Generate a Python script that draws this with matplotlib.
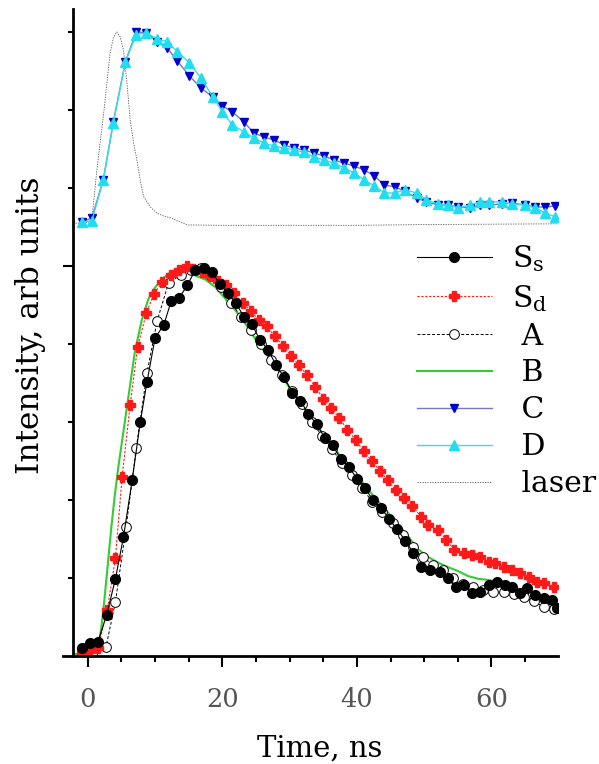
import matplotlib
matplotlib.use("Agg")
import matplotlib.pyplot as plt

plt.rcParams['font.family'] = 'DejaVu Serif'
plt.rcParams['mathtext.fontset'] = 'dejavuserif'

# normalised intensities (lower group: Ss, Sd, A, B)
ss_t = [-0.9, 0.3, 1.5, 2.8, 4.1, 5.3, 6.6, 7.8, 8.8, 10.0, 11.3, 12.4, 13.6, 14.8, 16.0, 17.2, 18.4, 19.6,
        20.8, 22.0, 23.2, 24.4, 25.6, 26.8, 28.0, 29.2, 30.4, 31.6, 32.8, 34.0, 35.2, 36.4, 37.6, 38.8,
        40.0, 41.2, 42.4, 43.6, 44.8, 46.0, 47.2, 48.4, 49.6, 50.8, 52.3, 53.6, 54.8, 55.9, 57.1, 58.3,
        59.6, 60.8, 62.0, 63.0, 64.2, 65.3, 66.5, 67.8, 69.0, 69.8]
ss_i = [0.02, 0.033, 0.036, 0.105, 0.197, 0.305, 0.451, 0.600, 0.703, 0.815, 0.849, 0.910, 0.918, 0.951,
        0.990, 0.995, 0.985, 0.955, 0.93, 0.905, 0.87, 0.85, 0.81, 0.785, 0.745, 0.715, 0.675, 0.655, 0.62,
        0.595, 0.56, 0.54, 0.505, 0.485, 0.455, 0.43, 0.40, 0.38, 0.35, 0.325, 0.295, 0.265, 0.228, 0.221,
        0.215, 0.200, 0.177, 0.182, 0.162, 0.164, 0.182, 0.190, 0.182, 0.177, 0.162, 0.174, 0.156, 0.149,
        0.144, 0.123]

sd_t = [-0.9, 0.3, 1.5, 2.9, 4.1, 5.1, 6.3, 7.4, 8.7, 9.8, 11.1, 12.3, 13.5, 14.7, 15.7, 17.0, 18.2, 19.4,
        20.6, 21.8, 23.0, 24.2, 25.4, 26.6, 27.8, 29.0, 30.2, 31.4, 32.6, 33.8, 35.0, 36.2, 37.4, 38.6,
        39.8, 41.0, 42.2, 43.4, 44.6, 45.8, 47.0, 48.2, 49.6, 50.6, 52.1, 53.3, 54.5, 55.9, 57.1, 58.3,
        59.6, 60.5, 61.8, 63.0, 64.2, 65.6, 66.8, 67.8, 69.3]
sd_i = [0.01, 0.012, 0.02, 0.118, 0.251, 0.459, 0.644, 0.792, 0.879, 0.928, 0.959, 0.977, 0.99, 1.0, 0.992,
        0.985, 0.975, 0.962, 0.95, 0.93, 0.905, 0.885, 0.862, 0.845, 0.82, 0.795, 0.77, 0.745, 0.72, 0.69,
        0.66, 0.635, 0.61, 0.58, 0.555, 0.525, 0.5, 0.475, 0.45, 0.425, 0.405, 0.385, 0.356, 0.336, 0.323,
        0.297, 0.272, 0.264, 0.259, 0.254, 0.241, 0.238, 0.228, 0.221, 0.213, 0.203, 0.19, 0.187, 0.177]

a_t = [-0.9, 0.6, 2.7, 4.1, 5.7, 7.2, 8.8, 10.3, 12.0, 13.8, 15.3, 16.8, 18.3, 19.8, 21.3, 22.8, 24.3, 25.8,
       27.3, 28.8, 30.3, 31.8, 33.3, 34.8, 36.3, 37.8, 39.3, 40.8, 42.3, 43.8, 45.3, 46.8, 48.3, 49.8,
       51.3, 52.8, 54.3, 55.8, 57.3, 58.8, 60.3, 61.8, 63.3, 64.8, 66.3, 67.8, 69.3]
a_i = [0.005, 0.005, 0.023, 0.138, 0.331, 0.533, 0.726, 0.859, 0.956, 0.977, 0.99, 0.995, 0.975, 0.945,
       0.905, 0.87, 0.835, 0.8, 0.76, 0.72, 0.68, 0.645, 0.6, 0.565, 0.53, 0.495, 0.465, 0.43, 0.395, 0.37,
       0.34, 0.31, 0.28, 0.255, 0.233, 0.22, 0.2, 0.185, 0.177, 0.17, 0.164, 0.165, 0.16, 0.15, 0.14,
       0.125, 0.12]

b_t = [-1.9, -1.0, 0.5, 1.5, 2.0, 2.5, 3.0, 3.5, 4.0, 4.5, 5.0, 5.5, 6.0, 7.0, 8.0, 9.0, 10.0, 11.0, 12.0,
       13.0, 14.0, 15.0, 16.0, 17.5, 19.0, 20.5, 22.0, 23.5, 25.0, 26.5, 28.0, 29.5, 31.0, 32.5, 34.0,
       35.5, 37.0, 38.5, 40.0, 41.5, 43.0, 44.5, 46.0, 47.5, 49.0, 50.5, 52.0, 53.5, 55.0, 56.5, 58.0,
       59.5, 61.0, 62.5, 64.0, 65.5, 67.0, 68.5, 70.0]
b_i = [0.005, 0.005, 0.005, 0.02, 0.07, 0.15, 0.24, 0.33, 0.41, 0.48, 0.54, 0.60, 0.66, 0.78, 0.86, 0.915,
       0.945, 0.965, 0.98, 0.99, 1.0, 0.99, 0.975, 0.965, 0.945, 0.915, 0.885, 0.85, 0.81, 0.775, 0.74,
       0.70, 0.665, 0.63, 0.59, 0.56, 0.525, 0.49, 0.465, 0.43, 0.40, 0.37, 0.34, 0.31, 0.275, 0.255, 0.24,
       0.228, 0.218, 0.205, 0.198, 0.195, 0.19, 0.185, 0.172, 0.165, 0.152, 0.145, 0.135]

# upper group: C, D and the laser pulse
cd_t = [-0.9, 0.6, 2.3, 3.8, 5.6, 7.2, 8.7, 10.3, 11.8, 13.3, 15.1, 16.8, 18.6, 20.0, 21.5, 23.2, 24.7,
        26.2, 27.7, 29.2, 30.6, 32.1, 33.6, 35.1, 36.6, 38.1, 39.6, 41.1, 42.6, 44.1, 45.6, 47.1, 48.9,
        50.3, 52.1, 53.6, 55.1, 56.8, 58.3, 59.7, 61.5, 63.0, 65.0, 66.5, 68.0, 69.5]
c_i = [0.0, 0.023, 0.222, 0.529, 0.844, 1.0, 0.996, 0.949, 0.916, 0.848, 0.769, 0.706, 0.658, 0.611, 0.58,
       0.527, 0.469, 0.448, 0.432, 0.406, 0.39, 0.38, 0.364, 0.348, 0.327, 0.311, 0.295, 0.275, 0.243,
       0.196, 0.186, 0.164, 0.128, 0.107, 0.091, 0.091, 0.08, 0.075, 0.091, 0.091, 0.096, 0.101, 0.091,
       0.08, 0.08, 0.086]
d_i = [0.0, 0.008, 0.222, 0.524, 0.844, 0.986, 0.996, 0.963, 0.949, 0.897, 0.838, 0.758, 0.658, 0.58,
       0.511, 0.476, 0.442, 0.416, 0.4, 0.39, 0.38, 0.369, 0.343, 0.327, 0.311, 0.285, 0.259, 0.222, 0.191,
       0.154, 0.154, 0.17, 0.154, 0.117, 0.096, 0.091, 0.075, 0.091, 0.107, 0.107, 0.107, 0.096, 0.091,
       0.075, 0.049, 0.028]

las_t = [-2.2, -1.0, 0.0, 0.6, 1.3, 1.8, 2.3, 2.8, 3.3, 3.8, 4.3, 4.8, 5.3, 5.8, 6.3, 6.8, 7.3, 7.8, 8.3,
         9.3, 10.3, 11.3, 12.3, 13.5, 14.8, 20.0, 30.0, 40.0, 50.0, 60.0, 70.0]
las_i = [-0.005, -0.005, 0.0, 0.01, 0.258, 0.41, 0.553, 0.72, 0.885, 0.97, 1.0, 0.975, 0.905, 0.74, 0.537,
         0.42, 0.327, 0.22, 0.135, 0.08, 0.047, 0.033, 0.023, 0.005, -0.014, -0.016, -0.016, -0.016,
         -0.012, -0.01, -0.008]

labels = ["S$_\\mathrm{s}$", "S$_\\mathrm{d}$", " A", " B", " C", " D", " laser"]

# lower group spans 0..1, upper group is shifted above it
top_base, top_amp = 1.112, 0.488


def lift(vals):
    return [top_base + top_amp * v for v in vals]


fig = plt.figure(figsize=(5.99, 7.64), dpi=100)
ax = fig.add_axes([0.1057, 0.1414, 0.8259, 0.8464])

hb, = ax.plot(b_t, b_i, color='#33cc33', lw=1.5)
ha, = ax.plot(a_t, a_i, color='black', lw=0.7, ls=(0, (3, 2)), marker='o', ms=7,
              mfc='white', mec='black', mew=0.7)
hsd, = ax.plot(sd_t, sd_i, color='#ff1a1a', lw=0.8, ls=(0, (2, 1.5)), marker='P', ms=6.5,
               mfc='#ff1a1a', mec='#ff1a1a')
hss, = ax.plot(ss_t, ss_i, color='black', lw=0.8, marker='o', ms=7, mfc='black', mec='black')

hl, = ax.plot(las_t, lift(las_i), color='#555555', lw=0.6, ls=(0, (1.5, 1.5)))
hc, = ax.plot(cd_t, lift(c_i), color='#7777bb', lw=1.0, marker='v', ms=6, mfc='#0000cc', mec='#0000cc')
hd, = ax.plot(cd_t, lift(d_i), color='#33ddee', lw=1.0, marker='^', ms=6.5, mfc='#22ddf0', mec='#22ddf0')

ax.set_xlim(-3.64, 69.9)
ax.set_ylim(0, 1.658)

for s in ['top', 'right']:
    ax.spines[s].set_visible(False)
ax.spines['left'].set_position(('data', -2.15))
ax.spines['left'].set_linewidth(2)
ax.spines['bottom'].set_linewidth(2)

ax.set_xticks([0, 20, 40, 60])
ax.set_xticks([5, 10, 15, 25, 30, 35, 45, 50, 55, 65], minor=True)
ax.set_yticks([1.0])
ax.set_yticks([0.2, 0.4, 0.6, 0.8, 1.2, 1.4, 1.6], minor=True)
ax.set_yticklabels([])
ax.tick_params(axis='x', which='major', direction='out', length=8, width=1.5,
               labelsize=18.5, labelcolor='#555555', pad=14)
ax.tick_params(axis='x', which='minor', direction='out', length=4, width=1.5)
ax.tick_params(axis='y', which='major', direction='out', length=7, width=1.5)
ax.tick_params(axis='y', which='minor', direction='out', length=3.5, width=1.5)

ax.set_xlabel("Time, ns", fontsize=21)
ax.xaxis.set_label_coords(0.518, -0.122)
ax.set_ylabel("Intensity, arb units", fontsize=22.5)
ax.yaxis.set_label_coords(-0.035, 0.512)

ax.legend([hss, hsd, ha, hb, hc, hd, hl], labels, loc='upper left',
          bbox_to_anchor=(417 / 599, 1 - 243 / 764), bbox_transform=fig.transFigure,
          frameon=False, fontsize=21.5, handlelength=2.5, handletextpad=0.67,
          labelspacing=0.3, borderpad=0, borderaxespad=0)

fig.savefig("out.png", dpi=100)
